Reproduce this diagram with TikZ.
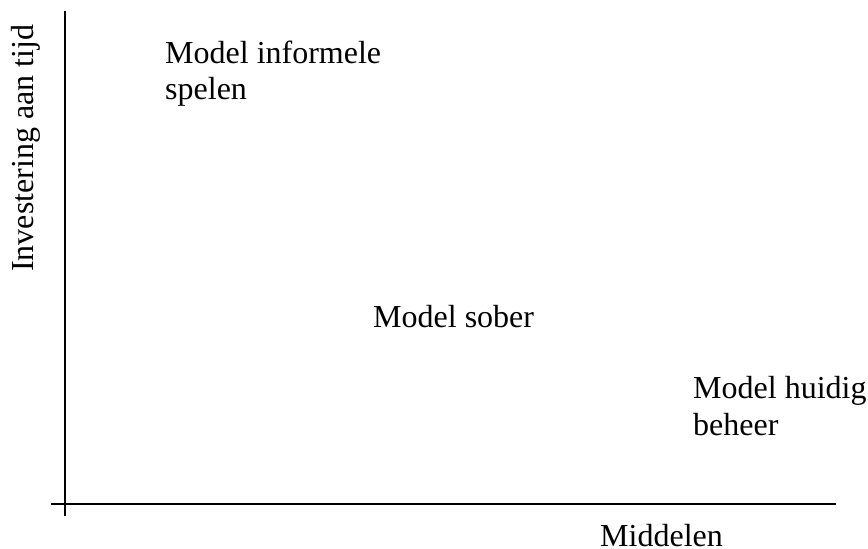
\documentclass[tikz,border=0pt]{standalone}
\usepackage{fontspec}
\setmainfont{Liberation Serif}
\begin{document}
\begin{tikzpicture}[x=1pt,y=-1pt,
  axis/.style={line width=1.5pt,black},
  lbl/.style={inner sep=0pt,anchor=base west,align=left,font=\fontsize{32}{36.5}\selectfont}]
\useasboundingbox (0,0) rectangle (868,549);
\coordinate (ytop) at (65,11);
\coordinate (ybot) at (65,516);
\coordinate (xl) at (51,504);
\coordinate (xr) at (836,504);
\draw[axis] (ytop) -- (ybot);
\draw[axis] (xl) -- (xr);
\node[lbl,rotate=90] (ylab) at (33,272) {Investering aan tijd};
\node[lbl] (xlab) at (600,546) {Middelen};
\node[lbl] (m1) at (165,99.5) {Model informele\\spelen};
\node[lbl] (m2) at (373,327) {Model sober};
\node[lbl] (m3) at (693,435) {Model huidig\\beheer};
\end{tikzpicture}
\end{document}
